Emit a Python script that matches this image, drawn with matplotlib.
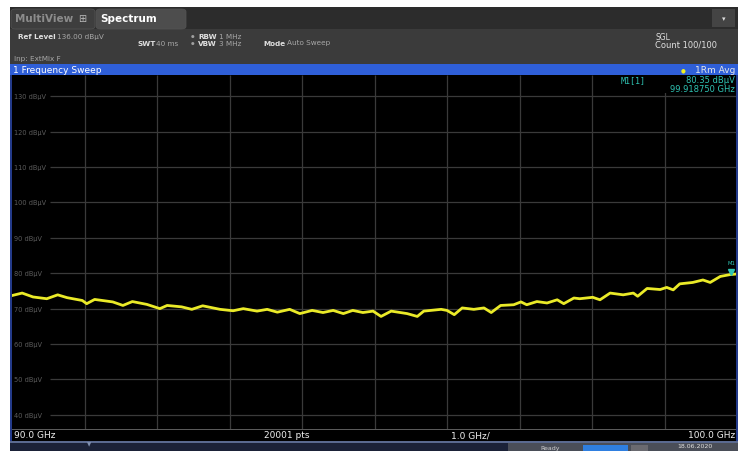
import matplotlib
matplotlib.use("Agg")
import matplotlib.pyplot as plt
from matplotlib.patches import Rectangle, FancyBboxPatch

# trace (GHz, dBuV)
freq_ghz = [90.0, 90.14, 90.29, 90.48, 90.63, 90.76, 90.97, 91.03, 91.14, 91.39,
            91.53, 91.66, 91.86, 92.04, 92.14, 92.34, 92.48, 92.63, 92.87, 93.05,
            93.19, 93.38, 93.52, 93.66, 93.83, 93.97, 94.14, 94.29, 94.43, 94.57,
            94.70, 94.84, 94.98, 95.09, 95.23, 95.45, 95.59, 95.68, 95.92, 96.0,
            96.10, 96.21, 96.37, 96.51, 96.61, 96.74, 96.92, 97.02, 97.10, 97.24,
            97.38, 97.52, 97.61, 97.75, 97.83, 98.01, 98.11, 98.25, 98.43, 98.57,
            98.63, 98.76, 98.94, 99.03, 99.12, 99.21, 99.39, 99.53, 99.63, 99.77,
            99.90, 100.0]
level_dbuv = [73.7, 74.4, 73.3, 72.8, 73.9, 73.1, 72.3, 71.4, 72.6, 71.9,
              70.9, 72.0, 71.2, 70.0, 70.9, 70.5, 69.8, 70.8, 69.8, 69.4,
              70.0, 69.3, 69.8, 69.0, 69.8, 68.6, 69.5, 68.9, 69.5, 68.6,
              69.5, 68.9, 69.3, 67.8, 69.3, 68.6, 67.8, 69.3, 69.8, 69.5,
              68.3, 70.2, 69.8, 70.2, 68.9, 70.9, 71.1, 71.9, 71.1, 72.0,
              71.6, 72.5, 71.4, 73.0, 72.8, 73.2, 72.5, 74.4, 73.9, 74.4,
              73.5, 75.7, 75.4, 76.0, 75.3, 77.0, 77.4, 78.1, 77.4, 79.1,
              79.6, 79.8]

grid_levels = [130, 120, 110, 100, 90, 80, 70, 60, 50, 40]
grid_freqs = [91, 92, 93, 94, 95, 96, 97, 98, 99]
ref_level = 136.0
marker_freq = 99.918750
marker_level = 80.35

W, H = 748, 452
fig = plt.figure(figsize=(W / 100, H / 100), dpi=100)
fig.patch.set_facecolor("white")


def fx(x):
    return x / W


def fy(y):
    return 1 - y / H


def box(x0, y0, x1, y1, color, z=0):
    fig.patches.append(Rectangle((fx(x0), fy(y1)), (x1 - x0) / W, (y1 - y0) / H,
                                 transform=fig.transFigure, facecolor=color,
                                 edgecolor="none", zorder=z))


def txt(x, y, s, size=5.5, color="#d0d0d0", **kw):
    fig.text(fx(x), fy(y), s, fontsize=size, color=color, va="center", **kw)


# header chrome
box(10, 8, 738, 30, "#2c2c2c")
box(10, 30, 738, 65, "#3b3b3b")
box(10, 65, 738, 76, "#2f5fd8")
box(10, 76, 738, 452, "#000000")
box(10, 76, 12, 442, "#233a8a", 2)
box(736, 76, 738, 442, "#233a8a", 4)
box(10, 442, 738, 452, "#1b2238", 1)
box(10, 442, 738, 443.5, "#5a6a90", 2)
box(508, 443.5, 738, 452, "#4a4e58", 2)
box(583, 446, 628, 452, "#2f7fe0", 3)
box(631, 446, 648, 452, "#6a6a70", 3)

for x0, x1, c in [(11, 95, "#3e3e3e"), (96, 186, "#4d4d4d")]:
    fig.patches.append(FancyBboxPatch((fx(x0), fy(30)), (x1 - x0) / W, 20 / H,
                                      boxstyle="round,pad=0,rounding_size=0.006",
                                      transform=fig.transFigure, facecolor=c,
                                      edgecolor="#555555", linewidth=0.5, zorder=1))
box(712, 10, 735, 28, "#444444", 1)
txt(723.5, 19, "\u25be", 5, "#dddddd", ha="center", zorder=3)

txt(15, 19.5, "MultiView", 7.5, "#8c8c8c", fontweight="bold", zorder=3)
txt(78, 19.5, "\u229e", 7, "#bbbbbb", zorder=3)
txt(100, 19.5, "Spectrum", 7.5, "#ffffff", fontweight="bold", zorder=3)

txt(18, 37, "Ref Level", 5.2, "#e0e0e0", fontweight="bold", zorder=3)
txt(57, 37, "136.00 dB\u00b5V", 5.2, "#a8a8a8", zorder=3)
txt(137, 43.5, "SWT", 5.2, "#e0e0e0", fontweight="bold", zorder=3)
txt(156, 43.5, "40 ms", 5.2, "#a8a8a8", zorder=3)
txt(191, 37, "\u25cf", 3, "#a0a0a0", zorder=3)
txt(191, 43.5, "\u25cf", 3, "#a0a0a0", zorder=3)
txt(198, 37, "RBW", 5.2, "#e0e0e0", fontweight="bold", zorder=3)
txt(219, 37, "1 MHz", 5.2, "#a8a8a8", zorder=3)
txt(198, 43.5, "VBW", 5.2, "#e0e0e0", fontweight="bold", zorder=3)
txt(219, 43.5, "3 MHz", 5.2, "#a8a8a8", zorder=3)
txt(263, 43.5, "Mode", 5.2, "#e0e0e0", fontweight="bold", zorder=3)
txt(287, 43.5, "Auto Sweep", 5.2, "#a8a8a8", zorder=3)
txt(14, 58.5, "Inp: ExtMix F", 5.2, "#a8a8a8", zorder=3)
txt(655, 37, "SGL", 5.5, "#e0e0e0", zorder=3)
txt(655, 45, "Count 100/100", 6, "#e0e0e0", zorder=3)

txt(13, 70.5, "1 Frequency Sweep", 6.5, "#ffffff", zorder=3)
txt(681, 70.5, "\u25cf", 4, "#f0f020", zorder=3)
txt(735, 70.5, "1Rm Avg", 6.5, "#e8e8e8", ha="right", zorder=3)

# plot area
ax = fig.add_axes([fx(12), fy(430), 725 / W, 354 / H])
ax.set_zorder(2.5)
ax.set_facecolor("#000000")
ax.set_xlim(90, 100)
ax.set_ylim(36, ref_level)
for s in ax.spines.values():
    s.set_visible(False)
ax.set_xticks([])
ax.set_yticks([])

ax.vlines(grid_freqs, 36, ref_level, color="#3a3a3a", lw=0.9, zorder=1)
ax.hlines(grid_levels, 90.52, 100, color="#3a3a3a", lw=0.9, zorder=1)
for lv in grid_levels:
    ax.text(90.03, lv, f"{lv} dB\u00b5V", fontsize=4.8, color="#5c5c5c",
            va="center", ha="left", zorder=2)

# black box behind marker readout
ax.add_patch(Rectangle((98.3, 131.0), 1.7, 5.0, facecolor="#000000",
                       edgecolor="none", zorder=2))
ax.text(98.4, 134.8, "M1[1]", fontsize=6, color="#2fc4b4", va="center",
        family="DejaVu Sans Mono", zorder=3)
ax.text(99.97, 134.8, f"{marker_level:.2f} dB\u00b5V", fontsize=6,
        color="#2fc4b4", va="center", ha="right", zorder=3)
ax.text(99.97, 132.3, f"{marker_freq:.6f} GHz", fontsize=6,
        color="#2fc4b4", va="center", ha="right", zorder=3)

ax.plot(freq_ghz, level_dbuv, color="#eaea28", lw=2.0, zorder=4,
        solid_joinstyle="round")
ax.plot([marker_freq], [marker_level], marker="v", ms=4, color="#2fc4b4",
        zorder=5)
ax.annotate("M1", (marker_freq, marker_level), xytext=(0, 7),
            textcoords="offset points", fontsize=3.8, color="#2fc4b4",
            ha="center", va="center", zorder=5)

# bottom axis line and labels
box(12, 430, 736, 431, "#5a5a5a", 3)
txt(14, 436, "90.0 GHz", 6.5, "#f0f0f0", zorder=3)
txt(287, 436, "20001 pts", 6.5, "#f0f0f0", ha="center", zorder=3)
txt(470, 436, "1.0 GHz/", 6.5, "#f0f0f0", ha="center", zorder=3)
txt(735, 436, "100.0 GHz", 6.5, "#f0f0f0", ha="right", zorder=3)
txt(89, 444.5, "\u25bc", 4, "#8090b0", ha="center", zorder=3)
txt(540, 449, "Ready", 4.5, "#d0d0d0", zorder=4)
txt(695, 446.5, "18.06.2020", 4.5, "#e0e0e0", ha="center", zorder=4)

fig.savefig("out.png", dpi=100, facecolor=fig.get_facecolor())
